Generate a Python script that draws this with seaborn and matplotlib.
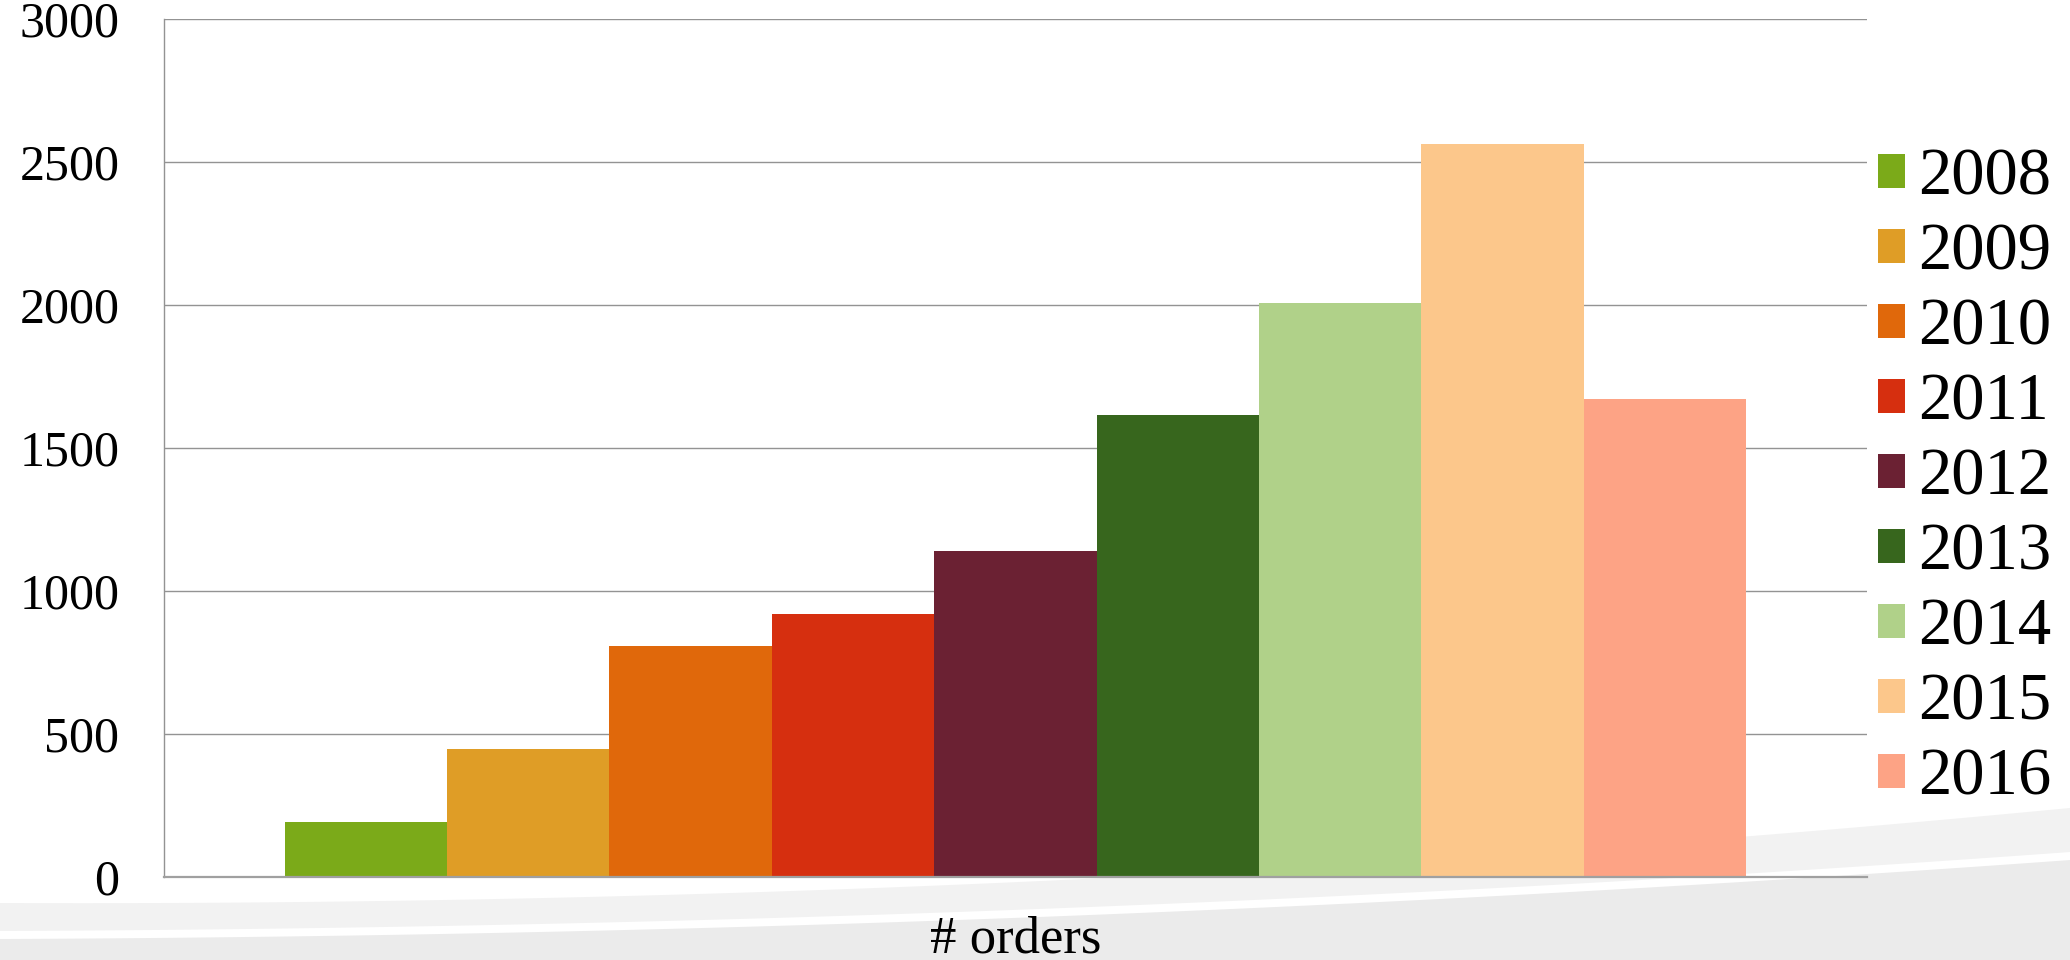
import numpy as np
import matplotlib
matplotlib.use("Agg")
import matplotlib.pyplot as plt
import pandas as pd
import seaborn as sns

# data
years = ["2008", "2009", "2010", "2011", "2012", "2013", "2014", "2015", "2016"]
orders = [192, 449, 808, 919, 1140, 1613, 2005, 2560, 1669]
colors = ["#7BAA19", "#DF9D26", "#E0680B", "#D62F0F", "#6B2133",
          "#37661D", "#B0D189", "#FCC78B", "#FDA385"]
category = "# orders"
yticks = [0, 500, 1000, 1500, 2000, 2500, 3000]

sns.set_style("white")
plt.rcParams["font.family"] = ["Liberation Serif", "DejaVu Serif"]
plt.rcParams["text.color"] = "black"

W, H = 2070, 960
fig = plt.figure(figsize=(W / 100, H / 100), dpi=100, facecolor="white")

# slide template swoosh in the background
bg = fig.add_axes([0, 0, 1, 1], zorder=-1)
bg.set_xlim(0, W)
bg.set_ylim(H, 0)
bg.axis("off")
xs = np.linspace(0, W, 400)
curve_a = 903 + 0.0039 * xs - 2.406e-5 * xs ** 2
curve_b = 931 - 0.0041 * xs - 1.645e-5 * xs ** 2
bg.fill_between(xs, curve_a, curve_b, color="#f2f2f2", lw=0)
bg.fill_between(xs, curve_b + 8, H, color="#ebebeb", lw=0)

ax = fig.add_axes([163.7 / W, 1 - 877 / H, (1867 - 163.7) / W, (877 - 18.5) / H])
ax.set_facecolor("none")

df = pd.DataFrame({"cat": [category] * len(years), "year": years, "orders": orders})
sns.barplot(data=df, x="cat", y="orders", hue="year", hue_order=years,
            palette=dict(zip(years, colors)), saturation=1, width=0.858,
            linewidth=0, ax=ax)

ax.set_ylim(0, 3000)
ax.set_xlim(-0.5, 0.5)
ax.set_yticks(yticks)
ax.set_yticklabels([str(t) for t in yticks])
ax.set_xticks([])
ax.tick_params(axis="y", length=0, pad=32, labelsize=36, labelcolor="black")
ax.set_ylabel("")
ax.set_xlabel(category, fontsize=38, labelpad=28, color="black")
ax.set_axisbelow(True)
ax.yaxis.grid(True, color="#939393", linewidth=1.0)
for s in ["top", "right"]:
    ax.spines[s].set_visible(False)
ax.spines["left"].set_color("#939393")
ax.spines["left"].set_linewidth(1.0)
ax.spines["bottom"].set_color("#a0a0a0")
ax.spines["bottom"].set_linewidth(1.6)

handles, labels = ax.get_legend_handles_labels()
ax.get_legend().remove()
leg = fig.legend(handles, labels, loc="center left", bbox_to_anchor=(1878 / W, 1 - 478 / H),
                 frameon=False, fontsize=48, handlelength=0.4, handleheight=0.4,
                 handletextpad=0.2, labelspacing=0.21, borderpad=0, borderaxespad=0)
for t in leg.get_texts():
    t.set_color("black")

fig.savefig("out.png", dpi=100, facecolor="white")
